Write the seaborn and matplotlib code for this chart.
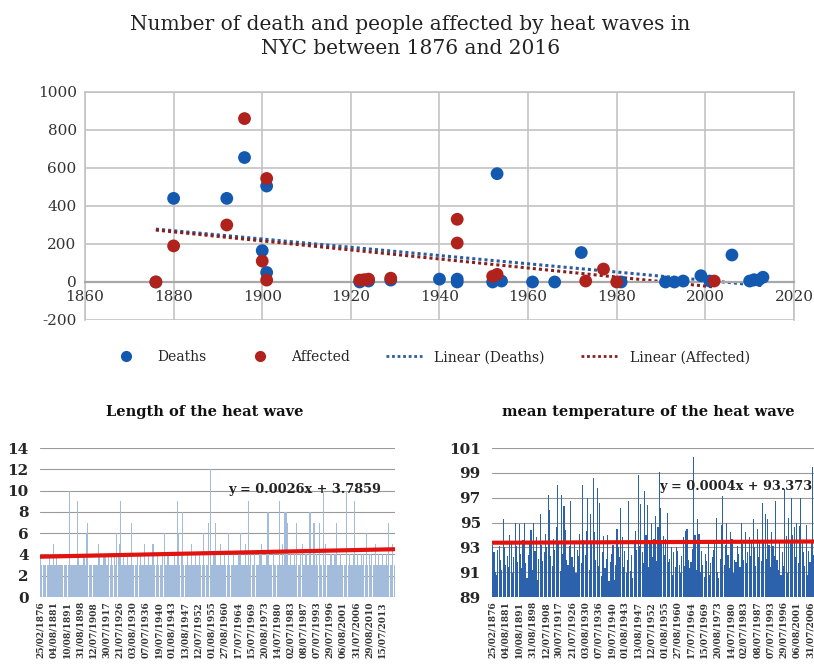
import numpy as np
import pandas as pd
import matplotlib
matplotlib.use('Agg')
import matplotlib.pyplot as plt
from matplotlib.lines import Line2D
import seaborn as sns

# ---- top chart: deaths / affected per heat wave year
death_years = [1876, 1880, 1892, 1896, 1900, 1901, 1901, 1922, 1924, 1929, 1940, 1944, 1944,
               1952, 1953, 1954, 1961, 1966, 1972, 1981, 1991, 1993, 1995, 1999, 2001,
               2006, 2010, 2011, 2012, 2013]
death_counts = [0, 440, 440, 655, 165, 505, 50, 0, 5, 10, 15, 15, 0,
                0, 570, 5, 0, 0, 155, 0, 0, 0, 5, 33, 5,
                142, 5, 12, 10, 25]
affected_years = [1876, 1880, 1892, 1896, 1900, 1901, 1901, 1922, 1923, 1924, 1929,
                  1944, 1944, 1952, 1953, 1973, 1977, 1980, 2002]
affected_counts = [0, 190, 300, 860, 110, 545, 10, 10, 12, 15, 20,
                   330, 205, 30, 40, 5, 68, 0, 5]

# ---- bottom charts: one bar per heat wave
wave_length = [
    4, 3, 3, 3, 3, 3, 3, 4, 3, 3, 5, 3, 4, 3, 3, 3, 3, 3, 3, 3, 3, 3, 10, 3, 3, 3, 3, 3, 9, 4,
    3, 3, 3, 4, 3, 6, 7, 3, 3, 3, 3, 3, 3, 3, 5, 4, 3, 3, 4, 4, 3, 3, 4, 3, 4, 3, 4, 3, 6, 4,
    5, 9, 3, 4, 3, 3, 4, 3, 3, 7, 3, 3, 3, 3, 4, 3, 4, 3, 3, 5, 3, 3, 4, 3, 3, 5, 5, 3, 3, 4,
    3, 3, 3, 4, 6, 3, 3, 4, 3, 3, 3, 3, 4, 3, 9, 6, 3, 4, 8, 3, 3, 3, 4, 3, 3, 5, 3, 3, 4, 3,
    3, 4, 3, 3, 6, 3, 3, 3, 7, 12, 3, 3, 4, 7, 3, 3, 3, 5, 3, 3, 4, 3, 3, 6, 3, 3, 3, 4, 3, 3,
    3, 4, 6, 3, 3, 3, 5, 3, 9, 3, 4, 3, 3, 4, 3, 3, 3, 4, 5, 3, 3, 3, 4, 8, 3, 3, 3, 4, 3, 3,
    3, 3, 9, 3, 5, 3, 8, 8, 7, 3, 4, 3, 3, 4, 3, 7, 3, 3, 4, 5, 3, 3, 4, 3, 3, 8, 3, 3, 7, 3,
    4, 3, 7, 3, 3, 10, 3, 5, 3, 3, 3, 4, 3, 3, 4, 7, 3, 3, 4, 3, 3, 3, 3, 10, 3, 4, 3, 3, 4, 9,
    3, 4, 3, 3, 4, 3, 4, 3, 6, 3, 4, 3, 4, 3, 3, 5, 3, 4, 3, 3, 4, 3, 3, 4, 3, 7, 3, 3, 5, 3]

mean_temp = [
    93.2, 92.6, 91.0, 90.8, 92.8, 93.1, 92.0, 91.2, 95.3, 93.0, 91.6, 92.3, 91.4, 94.0, 93.5,
    90.9, 92.2, 95.0, 93.1, 91.8, 94.9, 92.5, 91.3, 93.6, 95.0, 91.7, 90.5, 92.4, 93.3, 94.4,
    91.2, 95.0, 92.7, 93.8, 90.4, 92.1, 95.7, 93.2, 91.9, 92.6, 94.1, 93.0, 97.2, 96.0, 92.3,
    91.5, 93.7, 92.8, 94.6, 98.0, 93.4, 91.1, 97.2, 92.5, 96.3, 94.4, 92.0, 91.6, 93.1, 96.7,
    92.2, 91.4, 93.5, 90.9, 92.8, 92.3, 94.1, 91.7, 98.0, 93.6, 92.4, 94.3, 97.0, 91.2, 95.7,
    93.3, 98.6, 94.2, 92.0, 97.8, 91.5, 96.6, 90.7, 92.6, 93.9, 91.3, 92.1, 94.0, 90.3, 91.8,
    92.5, 93.2, 90.4, 91.6, 94.5, 93.0, 92.2, 96.2, 93.8, 91.4, 92.7, 90.9, 92.0, 96.7, 91.1,
    92.4, 90.5, 93.6, 94.3, 92.8, 98.8, 93.1, 96.5, 92.6, 91.7, 97.5, 94.0, 96.4, 91.4, 93.3,
    95.0, 92.2, 93.7, 95.5, 91.9, 94.6, 99.1, 96.2, 93.5, 93.9, 92.4, 93.7, 95.8, 91.8, 92.1,
    93.0, 90.8, 92.6, 91.4, 93.0, 92.7, 91.6, 90.9, 92.3, 93.8, 91.5, 94.3, 94.5, 92.0, 91.3,
    91.8, 92.9, 100.3, 94.0, 91.2, 95.3, 94.1, 91.0, 92.7, 91.6, 90.6, 92.5, 91.9, 93.4, 90.8,
    91.7, 92.2, 92.8, 93.5, 95.4, 91.0, 90.5, 92.1, 94.8, 97.1, 91.6, 93.2, 95.0, 92.4, 91.3,
    94.2, 93.7, 90.9, 92.0, 91.8, 93.1, 92.5, 91.4, 95.0, 93.3, 92.0, 94.2, 91.7, 92.6, 93.8,
    92.3, 93.5, 95.3, 93.0, 91.5, 94.5, 92.2, 93.6, 91.9, 96.6, 93.4, 95.7, 92.1, 95.3, 93.2,
    91.4, 94.2, 93.1, 92.3, 96.7, 92.0, 91.2, 93.5, 90.8, 92.6, 91.5, 97.7, 93.9, 90.9, 95.4,
    93.6, 97.0, 94.0, 94.6, 92.2, 95.0, 91.7, 94.7, 97.0, 93.4, 92.6, 91.5, 94.8, 90.8, 92.7,
    91.8, 93.4, 99.5, 92.4, 94.3, 91.9, 93.6, 90.9, 92.8, 94.1, 91.6, 93.0, 92.4, 95.2, 91.3,
    93.7, 92.5, 94.4, 91.1, 92.9, 93.8, 92.0, 95.6, 91.7, 93.3, 92.6, 94.0, 91.4, 93.5, 92.2]

date_labels = ['25/02/1876', '04/08/1881', '10/08/1891', '31/08/1898', '12/07/1908',
               '30/07/1917', '21/07/1926', '03/08/1930', '07/07/1936', '19/07/1940',
               '01/08/1943', '13/08/1947', '12/07/1952', '01/08/1955', '27/08/1960',
               '17/07/1964', '15/07/1969', '20/08/1973', '14/07/1980', '02/07/1983',
               '08/07/1987', '07/07/1993', '29/07/1996', '06/08/2001', '31/07/2006',
               '29/08/2010', '15/07/2013']

# trend equations printed on the bottom charts
length_slope, length_icpt = 0.0026, 3.7859
temp_slope, temp_icpt = 0.0004, 93.373

blue = '#1459b0'
red = '#b0221c'
grey = '#c3c3c3'

sns.set_style('white')
plt.rcParams['font.family'] = ['DejaVu Serif']
plt.rcParams['axes.unicode_minus'] = False

fig = plt.figure(figsize=(8.14, 6.69), dpi=100)
fig.patch.set_facecolor('white')

fig.text(0.504, 0.978, 'Number of death and people affected by heat waves in\nNYC between 1876 and 2016',
         ha='center', va='top', fontsize=14.5, color='#222222', linespacing=1.35)

# ---- top scatter
ax = fig.add_axes([0.1044, 0.5217, 0.871, 0.3408])
deaths = pd.DataFrame({'year': death_years, 'n': death_counts})
affected = pd.DataFrame({'year': affected_years, 'n': affected_counts})

sns.regplot(data=deaths, x='year', y='n', scatter=False, ci=None, ax=ax,
            line_kws=dict(color='#2b5c9e', lw=2.2, ls=(0, (1, 1))))
sns.regplot(data=affected, x='year', y='n', scatter=False, ci=None, ax=ax,
            line_kws=dict(color='#8a1d1d', lw=2.2, ls=(0, (1, 1))))
sns.scatterplot(data=deaths, x='year', y='n', color=blue, s=85, edgecolor='none', ax=ax, zorder=3)
sns.scatterplot(data=affected, x='year', y='n', color=red, s=85, edgecolor='none', ax=ax, zorder=4)

ax.set_xlim(1860, 2020)
ax.set_ylim(-200, 1000)
ax.set_xticks(range(1860, 2021, 20))
ax.set_yticks(range(-200, 1001, 200))
ax.grid(True, color=grey, lw=1.2)
ax.set_axisbelow(True)
for s in ['left', 'right', 'top']:
    ax.spines[s].set_color(grey)
    ax.spines[s].set_linewidth(1.2)
ax.spines['bottom'].set_position(('data', 0))
ax.spines['bottom'].set_color('#a8a8a8')
ax.spines['bottom'].set_linewidth(1.6)
ax.tick_params(length=0, labelsize=11, labelcolor='#333333', pad=6)
ax.set_xlabel('')
ax.set_ylabel('')

handles = [
    Line2D([], [], marker='o', ls='none', color=blue, markersize=7),
    Line2D([], [], marker='o', ls='none', color=red, markersize=7),
    Line2D([], [], color='#2b5c9e', lw=2, ls=(0, (1, 1))),
    Line2D([], [], color='#8a1d1d', lw=2, ls=(0, (1, 1))),
]
fig.legend(handles, ['Deaths', 'Affected', 'Linear (Deaths)', 'Linear (Affected)'],
           loc='center', bbox_to_anchor=(0.527, 0.466), ncol=4, frameon=False,
           fontsize=10, handlelength=2.6, handletextpad=0.9, columnspacing=2.6)

# ---- bottom left: length of heat wave
n = len(wave_length)
idx = np.arange(n)
ax1 = fig.add_axes([0.049, 0.1076, 0.436, 0.2227])
sns.barplot(x=idx, y=wave_length, color='#a4bcdb', saturation=1, width=0.9,
            linewidth=0, ax=ax1)
ax1.plot(idx, length_slope * (idx + 1) + length_icpt, color='#e2120f', lw=3)
ax1.set_ylim(0, 14)
ax1.set_xlim(-0.5, n - 0.5)
ax1.set_yticks(range(0, 15, 2))
ax1.text(201, 10.1, f'y = {length_slope}x + {length_icpt}', ha='center', va='center',
         fontsize=9.3, fontweight='bold', color='#222222')
fig.text(0.252, 0.384, 'Length of the heat wave', ha='center', va='center',
         fontsize=10.5, fontweight='bold', color='#111111')
ax1.set_xticks(range(0, n, 10))
ax1.set_xticklabels(date_labels, rotation=90, fontsize=6.5, fontweight='bold', color='#333333')

# ---- bottom right: mean temperature (chart runs past the right edge of the image)
visible = 243
ax2 = fig.add_axes([0.6044, 0.1076, 1 - 0.6044, 0.2227])
sns.barplot(x=idx, y=mean_temp, color='#2c62ac', saturation=1, width=0.85,
            linewidth=0, ax=ax2)
ax2.plot(idx, temp_slope * (idx + 1) + temp_icpt, color='#e2120f', lw=3)
ax2.set_ylim(89, 101)
ax2.set_xlim(-0.5, visible)
ax2.set_yticks(range(89, 102, 2))
ax2.text(126, 97.9, f'y = {temp_slope}x + {temp_icpt}', ha='left', va='center',
         fontsize=9.3, fontweight='bold', color='#222222')
fig.text(0.796, 0.384, 'mean temperature of the heat wave', ha='center', va='center',
         fontsize=10.5, fontweight='bold', color='#111111')
right_ticks = list(range(0, visible, 10))
ax2.set_xticks(right_ticks)
ax2.set_xticklabels(date_labels[:len(right_ticks)], rotation=90, fontsize=6.5,
                    fontweight='bold', color='#333333')

for a in (ax1, ax2):
    a.grid(True, axis='y', color='#9a9a9a', lw=0.8)
    a.set_axisbelow(True)
    sns.despine(ax=a, left=True, bottom=True)
    a.tick_params(axis='y', length=0, labelsize=11, pad=8)
    a.tick_params(axis='x', length=0, pad=3)
    for lab in a.get_yticklabels():
        lab.set_fontweight('bold')
    a.set_xlabel('')
    a.set_ylabel('')

fig.savefig('out.png', dpi=100)
